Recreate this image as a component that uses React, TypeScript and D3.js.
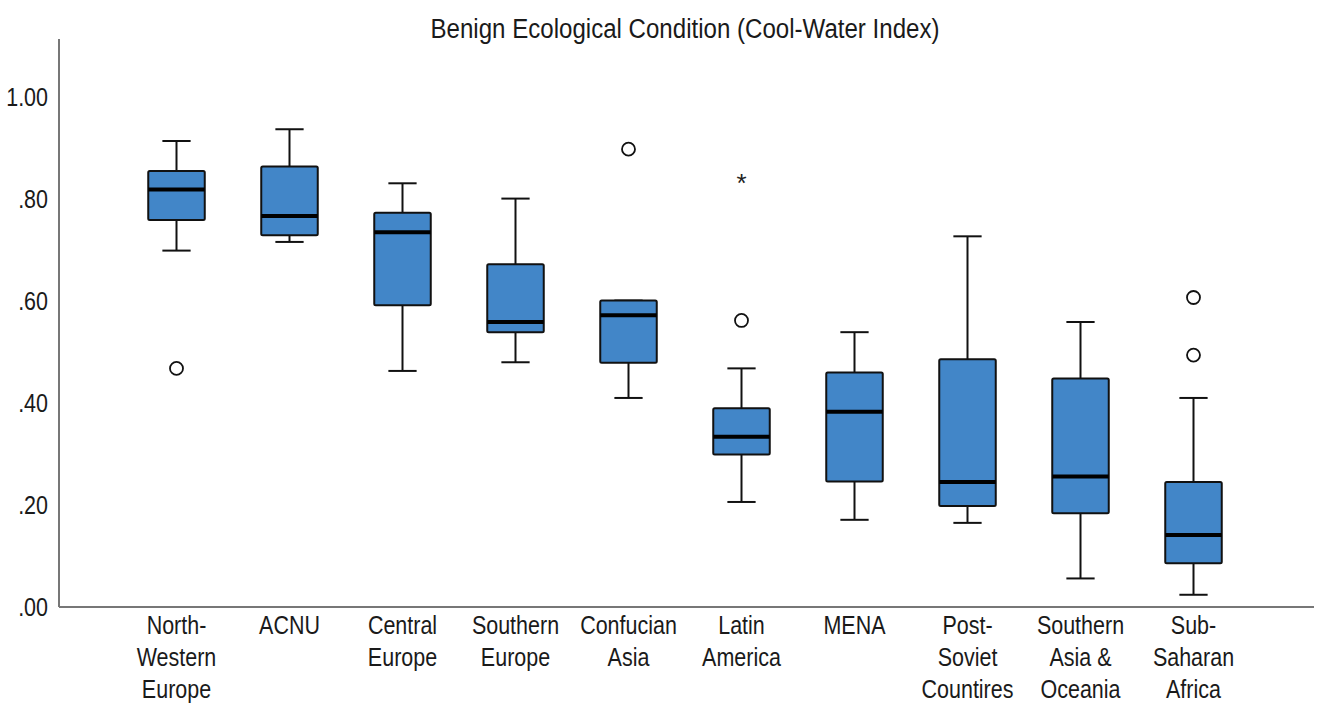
import React from "react";
import * as d3 from "d3";

const regions = [
  ["North-", "Western", "Europe"],
  ["ACNU"],
  ["Central", "Europe"],
  ["Southern", "Europe"],
  ["Confucian", "Asia"],
  ["Latin", "America"],
  ["MENA"],
  ["Post-", "Soviet", "Countires"],
  ["Southern", "Asia &", "Oceania"],
  ["Sub-", "Saharan", "Africa"],
];
const whiskerLow = [0.699, 0.716, 0.463, 0.48, 0.41, 0.206, 0.171, 0.165, 0.056, 0.024];
const q1 = [0.759, 0.729, 0.592, 0.539, 0.479, 0.299, 0.246, 0.198, 0.184, 0.086];
const median = [0.819, 0.767, 0.735, 0.559, 0.572, 0.334, 0.383, 0.245, 0.256, 0.141];
const q3 = [0.855, 0.864, 0.773, 0.672, 0.601, 0.39, 0.46, 0.486, 0.448, 0.245];
const whiskerHigh = [0.914, 0.937, 0.831, 0.801, 0.601, 0.468, 0.539, 0.727, 0.559, 0.41];
// [region index, value]
const outliers = [
  [0, 0.468],
  [4, 0.898],
  [5, 0.562],
  [9, 0.607],
  [9, 0.494],
];
const extremes = [[5, 0.836]];
const yTicks = [0, 0.2, 0.4, 0.6, 0.8, 1.0];

const W = 1322;
const H = 707;
const font = "'Liberation Sans', Arial, sans-serif";
const squeeze = 0.86; // condensed look

// text squeezed horizontally around its anchor point
function NText({ x, y, size, anchor = "middle", children }) {
  return (
    <text
      transform={`translate(${x},${y}) scale(${squeeze},1)`}
      textAnchor={anchor}
      fontFamily={font}
      fontSize={size}
      fill="#1a1a1a"
    >
      {children}
    </text>
  );
}

export default function App() {
  const x = d3
    .scaleBand()
    .domain(regions.map((_, i) => String(i)))
    .range([120, 1250])
    .paddingInner(0.5)
    .paddingOuter(0.25);
  const y = d3.scaleLinear().domain([0, 1.114]).range([607, 39]);
  const bw = x.bandwidth();
  const cx = (i) => (x(String(i)) as number) + bw / 2;
  const fmt = (v) => (v === 1 ? "1.00" : d3.format(".2f")(v).replace(/^0/, ""));

  return (
    <svg width={W} height={H} style={{ position: "absolute", left: 0, top: 0, background: "#fff" }}>
      <NText x={685} y={38} size={28}>
        Benign Ecological Condition (Cool-Water Index)
      </NText>

      {/* axes */}
      <line x1={59} x2={59} y1={y.range()[1]} y2={y(0)} stroke="#777" strokeWidth={2} />
      <line x1={59} x2={1314} y1={y(0)} y2={y(0)} stroke="#777" strokeWidth={2} />
      {yTicks.map((t) => (
        <NText key={t} x={48} y={y(t) + 9} size={25} anchor="end">
          {fmt(t)}
        </NText>
      ))}

      {regions.map((lines, i) => (
        <NText key={i} x={cx(i)} y={634} size={25}>
          {lines.map((l, j) => (
            <tspan key={j} x={0} y={j * 32}>
              {l}
            </tspan>
          ))}
        </NText>
      ))}

      {regions.map((_, i) => {
        const c = cx(i);
        const capW = bw * 0.5;
        return (
          <g key={i} stroke="#111">
            <line x1={c} x2={c} y1={y(whiskerHigh[i])} y2={y(q3[i])} strokeWidth={2} />
            <line x1={c} x2={c} y1={y(q1[i])} y2={y(whiskerLow[i])} strokeWidth={2} />
            <line x1={c - capW / 2} x2={c + capW / 2} y1={y(whiskerHigh[i])} y2={y(whiskerHigh[i])} strokeWidth={2} />
            <line x1={c - capW / 2} x2={c + capW / 2} y1={y(whiskerLow[i])} y2={y(whiskerLow[i])} strokeWidth={2} />
            <rect
              x={c - bw / 2}
              y={y(q3[i])}
              width={bw}
              height={y(q1[i]) - y(q3[i])}
              fill="#4286c8"
              strokeWidth={2}
              rx={1.5}
            />
            <line x1={c - bw / 2} x2={c + bw / 2} y1={y(median[i])} y2={y(median[i])} stroke="#000" strokeWidth={4} />
          </g>
        );
      })}

      {outliers.map(([i, v], k) => (
        <circle key={k} cx={cx(i)} cy={y(v)} r={6.5} fill="#fff" stroke="#111" strokeWidth={1.8} />
      ))}
      {extremes.map(([i, v], k) => (
        <text key={k} x={cx(i)} y={y(v) + 11} textAnchor="middle" fontFamily={font} fontSize={26} fill="#222">
          *
        </text>
      ))}
    </svg>
  );
}
